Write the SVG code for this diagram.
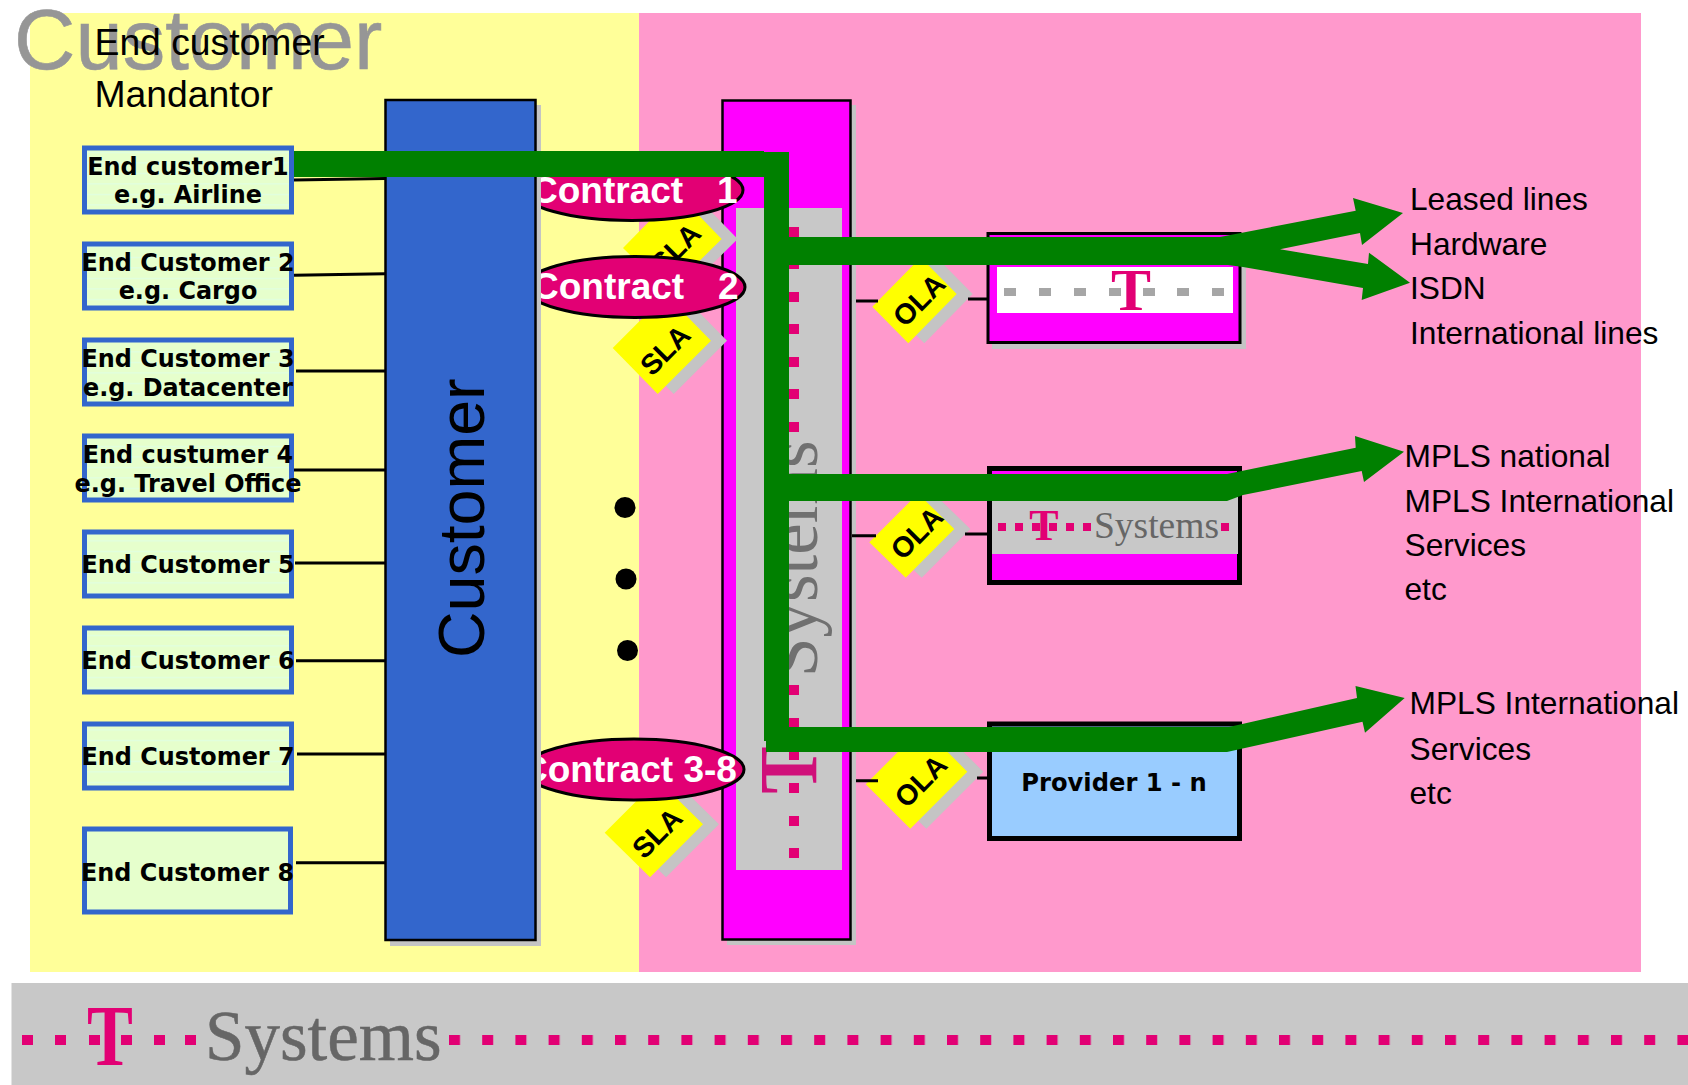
<svg xmlns="http://www.w3.org/2000/svg" width="1688" height="1085" viewBox="0 0 1688 1085">
<style>
text{font-family:"Liberation Sans",Arial,sans-serif;fill:#000}
.cb{fill:url(#tex);stroke:#3366cc;stroke-width:5}
.cb8{fill:#e6ffcc;stroke:#3366cc;stroke-width:5}
.ct{font-family:"DejaVu Sans",Verdana,sans-serif;font-weight:700;font-size:23.9px;text-anchor:middle}
.info{font-size:31.7px}
.head{font-size:37.3px}
.shadow{fill:#c4c4c4}
.sla{fill:#ff0}
.dt{font-weight:700;font-size:28.5px;text-anchor:middle}
.con{fill:#e20074;stroke:#000;stroke-width:3}
.cont{fill:#fff;font-weight:700;font-size:37px}
.mag{fill:#f0f;stroke:#000}
.tee{font-family:"Liberation Serif",serif;font-weight:700;fill:#e20074;text-anchor:middle}
.sys{font-family:"Liberation Serif",serif;fill:#666}
.d{fill:#e20074}
.g{fill:#a6a6a6}
.thin{fill:none;stroke:#000;stroke-width:3}
.green{fill:#008000}
</style>
<defs>
<pattern id="tex" patternUnits="userSpaceOnUse" width="10" height="10.5">
<rect width="10" height="10.5" fill="#e6ffcc"/><rect y="5" width="10" height="1" fill="#dfffe6"/>
</pattern>
<pattern id="dots" patternUnits="userSpaceOnUse" x="449" y="1035" width="33.2" height="10">
<rect width="11" height="10" fill="#e20074"/>
</pattern>
</defs>

<g id="background">
<rect x="30" y="13" width="609" height="959" fill="#ff9"/>
<rect x="639" y="13" width="1002" height="959" fill="#f9c"/>
</g>

<g id="titles">
<text x="14" y="69" font-size="85" style="fill:#969696;stroke:#969696;stroke-width:.6">Customer</text>
<text class="head" x="94.500" y="55">End customer</text>
<text class="head" x="94.500" y="107">Mandantor</text>
</g>

<g id="end-customer-1"><rect class="cb" x="84.5" y="148" width="207" height="64"/><text class="ct" x="188" y="175">End customer1</text><text class="ct" x="188" y="203">e.g. Airline</text></g>
<g id="end-customer-2"><rect class="cb" x="84.5" y="244" width="207" height="64"/><text class="ct" x="188" y="271">End Customer 2</text><text class="ct" x="188" y="299">e.g. Cargo</text></g>
<g id="end-customer-3"><rect class="cb" x="84.5" y="340" width="207" height="64"/><text class="ct" x="188" y="367">End Customer 3</text><text class="ct" x="188" y="396">e.g. Datacenter</text></g>
<g id="end-customer-4"><rect class="cb" x="84.5" y="436" width="207" height="64"/><text class="ct" x="188" y="463">End custumer 4</text><text class="ct" x="188" y="492">e.g. Travel Office</text></g>
<g id="end-customer-5"><rect class="cb" x="84.5" y="532" width="207" height="64"/><text class="ct" x="188" y="573">End Customer 5</text></g>
<g id="end-customer-6"><rect class="cb" x="84.5" y="628" width="207" height="64"/><text class="ct" x="188" y="669">End Customer 6</text></g>
<g id="end-customer-7"><rect class="cb" x="84.5" y="724" width="207" height="64"/><text class="ct" x="188" y="764.500">End Customer 7</text></g>
<g id="end-customer-8"><rect class="cb8" x="84.5" y="829" width="206" height="83"/><text class="ct" x="187.500" y="880.500">End Customer 8</text></g>

<g id="tsystems-column">
<rect class="shadow" x="727" y="105" width="129" height="840"/>
<rect class="mag" x="722.500" y="100.500" width="128" height="839" stroke-width="2.500"/>
<rect x="736" y="208" width="106" height="662" fill="#c8c8c8"/>
<path class="d" d="M789 227h10v10h-10zM789 259h10v10h-10zM789 292h10v10h-10zM789 324h10v10h-10zM789 357h10v10h-10zM789 389h10v10h-10zM789 422h10v10h-10zM789 685h10v10h-10zM789 718h10v10h-10z"/>
<text class="sys" transform="translate(817 677) rotate(-90)" font-size="71" style="fill:#707070">Systems</text>
<text class="tee" transform="translate(816 770) rotate(-90) scale(.85 1)" font-size="83" style="fill:#d0107a">T</text>
<path class="d" d="M789 750h10v10h-10zM789 783h10v10h-10zM789 816h10v10h-10zM789 848h10v10h-10z"/>
</g>

<g id="sla-1">
<path class="shadow" d="M693 193L737.700 239L684 292L639 248z"/>
<path class="sla" d="M677 193L721.700 239L668 292L623 248z"/>
<text class="dt" transform="translate(675.700 248.300) rotate(-45)" y="10">SLA</text>
</g>
<g id="sla-2">
<path class="shadow" d="M682 294.700L727 340.700L673.700 394L628.700 348z"/>
<path class="sla" d="M666 294.700L711 340.700L657.700 394L612.700 348z"/>
<text class="dt" transform="translate(665 350) rotate(-45)" y="10">SLA</text>
</g>
<g id="sla-3">
<path class="shadow" d="M673.700 779.700L719 824.300L666 877.300L620.700 832.700z"/>
<path class="sla" d="M657.700 779.700L703 824.300L650 877.300L604.700 832.700z"/>
<text class="dt" transform="translate(657 833) rotate(-45)" y="10">SLA</text>
</g>

<g id="contract-1"><ellipse class="con" cx="632" cy="190" rx="111" ry="30.500"/><text class="cont" x="531" y="203" xml:space="preserve">Contract   <tspan dx="3">1</tspan></text></g>
<g id="contract-2"><ellipse class="con" cx="635" cy="287" rx="110" ry="30.500"/><text class="cont" x="532" y="299" xml:space="preserve">Contract   <tspan dx="3">2</tspan></text></g>
<g id="contract-3-8"><ellipse class="con" cx="634" cy="769.500" rx="110" ry="30.500"/><text class="cont" x="521" y="782">Contract 3-8</text></g>

<g id="customer-column">
<rect class="shadow" x="390" y="105" width="151" height="841"/>
<rect x="385.500" y="100" width="150" height="840" fill="#36c" stroke="#000" stroke-width="2.500"/>
<text transform="translate(484 658) rotate(-90)" font-size="64.500">Customer</text>
</g>

<g id="ellipsis-dots">
<circle cx="625" cy="507.500" r="10.500"/><circle cx="626" cy="579" r="10.500"/><circle cx="627.500" cy="650.500" r="10.500"/>
</g>

<g id="ola-1">
<path class="shadow" d="M936.700 257.400L972.700 294L924.300 343.300L888.300 306.700z"/>
<path class="sla" d="M920.700 257.400L956.700 294L908.300 343.300L872.300 306.700z"/>
<text class="dt" transform="translate(919 300) rotate(-45)" y="10">OLA</text>
</g>
<g id="ola-2">
<path class="shadow" d="M934 493.600L970.300 529L921.700 577.700L885.300 542.300z"/>
<path class="sla" d="M918 493.600L954.300 529L905.700 577.700L869.300 542.300z"/>
<text class="dt" transform="translate(916.700 533) rotate(-45)" y="10">OLA</text>
</g>
<g id="ola-3">
<path class="shadow" d="M938.700 727L983.300 771.700L926.300 828.700L881.700 784.300z"/>
<path class="sla" d="M922.700 727L967.300 771.700L910.300 828.700L865.700 784.300z"/>
<text class="dt" transform="translate(920.700 781) rotate(-45)" y="10">OLA</text>
</g>

<g id="provider-t">
<rect class="shadow" x="992" y="238" width="254" height="111"/>
<rect class="mag" x="988" y="233.500" width="252" height="109" stroke-width="3"/>
<rect x="997" y="267" width="236" height="46" fill="#fff"/>
<path class="g" d="M1004 288h12v8h-12zM1039 288h12v8h-12zM1074 288h12v8h-12zM1109 288h12v8h-12zM1143 288h12v8h-12zM1177 288h12v8h-12zM1212 288h12v8h-12z"/>
<text class="tee" x="1131" y="310" font-size="60">T</text>
</g>
<g id="provider-tsystems">
<rect class="mag" x="989.500" y="468.500" width="250" height="114" stroke-width="5"/>
<rect x="992" y="497" width="246" height="57" fill="#c8c8c8"/>
<path class="d" d="M998 523h8v8h-8zM1015 523h8v8h-8zM1032 523h8v8h-8zM1049 523h8v8h-8zM1066 523h8v8h-8zM1083 523h8v8h-8zM1221 523h8v8h-8z"/>
<text class="tee" x="1044" y="540" font-size="44">T</text>
<text class="sys" x="1094" y="538" font-size="37.500">Systems</text>
</g>
<g id="provider-n">
<rect x="989.500" y="724" width="250" height="114.500" fill="#9cf" stroke="#000" stroke-width="5"/>
<text class="ct" x="1114" y="791" style="font-size:24.200px">Provider 1 - n</text>
</g>

<g id="labels-1">
<text class="info" x="1410" y="210">Leased lines</text>
<text class="info" x="1410" y="255">Hardware</text>
<text class="info" x="1410" y="298.500">ISDN</text>
<text class="info" x="1410" y="343.500">International lines</text>
</g>
<g id="labels-2">
<text class="info" x="1404.500" y="466.500">MPLS national</text>
<text class="info" x="1404.500" y="511.500">MPLS International</text>
<text class="info" x="1404.500" y="555.500">Services</text>
<text class="info" x="1404.500" y="599.500">etc</text>
</g>
<g id="labels-3">
<text class="info" x="1409.500" y="714">MPLS International</text>
<text class="info" x="1409.500" y="759.500">Services</text>
<text class="info" x="1409.500" y="803.500">etc</text>
</g>

<g id="logo-band">
<rect x="11.500" y="983" width="1676.500" height="102" fill="#c8c8c8"/>
<path class="d" d="M22 1035h11v10h-11zM55 1035h11v10h-11zM89 1035h11v10h-11zM121 1035h11v10h-11zM154 1035h11v10h-11zM185 1035h11v10h-11z"/>
<text class="tee" transform="translate(110 1065) scale(.8 1)" font-size="86">T</text>
<path class="d" d="M89 1035h11v10h-11zM121 1035h11v10h-11z" opacity=".8"/>
<text class="sys" x="205" y="1060" font-size="71" style="stroke:#666;stroke-width:.5">Systems</text>
<rect x="449" y="1035" width="1239" height="10" fill="url(#dots)"/>
</g>

<g id="connectors">
<path class="thin" d="M294 180L385 178.500M294 275.300L385 273.700M296 371H385M294 470H385M295 563H385M296 660.700H385M297 754H385M296 862.700H385"/>
<path class="thin" d="M856 301H878M968 299H987M852 535.700H876M965 534H987M856 780.700H878M977 778H987"/>
<path class="green" d="M294 151H764V152H789V237H1220L1355.700 210.700L1353 198L1403 213L1362 245L1360 233L1280 249.300L1368 264L1369 252.700L1410 282.700L1361.700 300L1363 288L1243 267L1228 265H789V474H1227L1355.700 447.700L1355 436L1404 451.700L1364 482L1361.700 471L1243 495L1227 501H789V727H1229L1357 698L1355.500 686L1404.700 698L1365 732.700L1362.500 721.700L1227 752H766V741H764V177H294z"/>
</g>
</svg>
